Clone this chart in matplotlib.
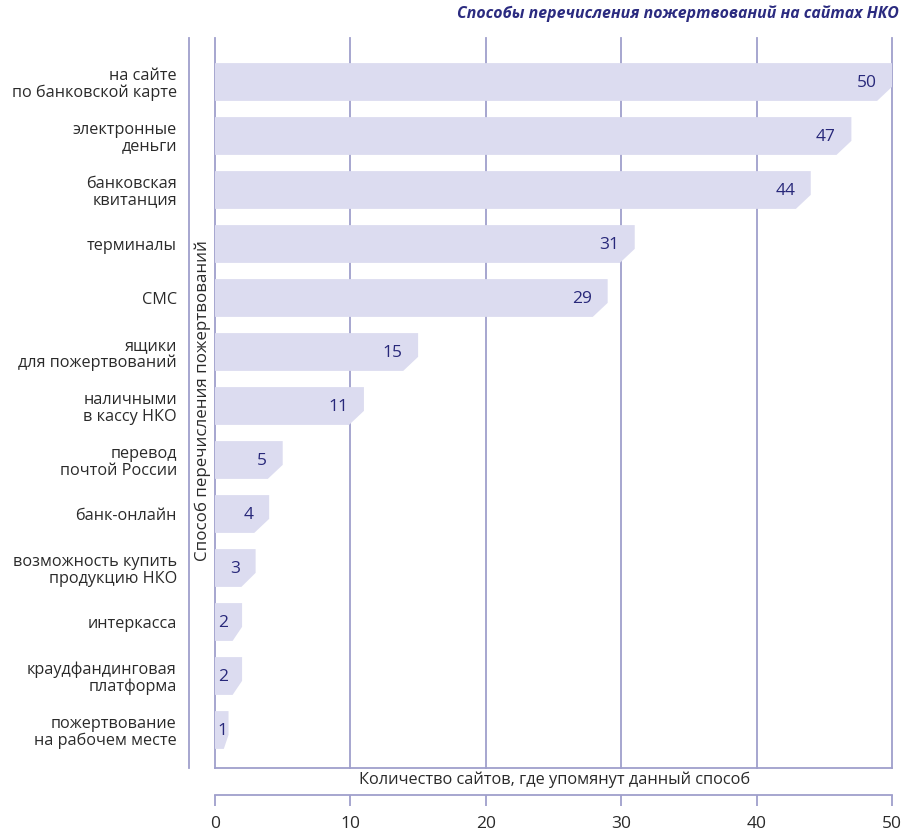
import matplotlib.pyplot as plt
from matplotlib.patches import Polygon
from matplotlib.lines import Line2D

plt.rcParams['font.family'] = ['Open Sans', 'DejaVu Sans']

categories = [
    'на сайте\nпо банковской карте',
    'электронные\nденьги',
    'банковская\nквитанция',
    'терминалы',
    'СМС',
    'ящики\nдля пожертвований',
    'наличными\nв кассу НКО',
    'перевод\nпочтой России',
    'банк-онлайн',
    'возможность купить\nпродукцию НКО',
    'интеркасса',
    'краудфандинговая\nплатформа',
    'пожертвование\nна рабочем месте',
]
values = [50, 47, 44, 31, 29, 15, 11, 5, 4, 3, 2, 2, 1]
x_ticks = [0, 10, 20, 30, 40, 50]

title = 'Способы перечисления пожертвований на сайтах НКО'
y_title = 'Способ перечисления пожертвований'
x_title = 'Количество сайтов, где упомянут данный способ'

line_col = '#9f9fcc'
bar_col = '#dcdcf0'
num_col = '#28287a'
text_col = '#2a2a2a'

W, H = 902, 832
fig = plt.figure(figsize=(W / 100, H / 100), dpi=100)

# main plot area in pixels: x 215..892, y 38..768
ax = fig.add_axes([215 / W, (H - 768) / H, 677 / W, 730 / H])
n = len(values)
ax.set_xlim(0, 50)
ax.set_ylim(n - 1 + 38 / 54, -44 / 54)

h = 0.35
cy = 0.26
for i, v in enumerate(values):
    cx = min(1.1, 0.35 * v)
    pts = [(0, i - h), (v, i - h), (v, i + h - cy), (v - cx, i + h), (0, i + h)]
    ax.add_patch(Polygon(pts, closed=True, facecolor=bar_col, edgecolor='none', zorder=2))
    ax.text(max(v - 1.15, 0.95), i + 0.02, str(v), ha='right', va='center',
            color=num_col, fontsize=12.5, zorder=3)

for t in x_ticks:
    ax.axvline(t, color=line_col, lw=1.3, zorder=1, clip_on=False)

for s in ['top', 'right', 'left']:
    ax.spines[s].set_visible(False)
ax.spines['bottom'].set_color(line_col)
ax.spines['bottom'].set_linewidth(1.3)
ax.set_xticks([])
ax.set_yticks(range(n))
ax.set_yticklabels(categories, fontsize=11.7, color=text_col, linespacing=1.05)
ax.tick_params(axis='y', length=0, pad=27.5)

# left border line of the y title column
fig.add_artist(Line2D([189 / W, 189 / W], [(H - 38) / H, (H - 768) / H],
                      color=line_col, lw=1.3))
fig.text(203 / W, (H - 401) / H, y_title, rotation=90, ha='center', va='center',
         fontsize=12.2, color=text_col)
fig.text(555 / W, (H - 780) / H, x_title, ha='center', va='center',
         fontsize=11.8, color=text_col)

# bottom scale
ax2 = fig.add_axes([215 / W, (H - 795) / H, 677 / W, 0.0001])
ax2.set_xlim(0, 50)
ax2.set_yticks([])
for s in ['top', 'right', 'left']:
    ax2.spines[s].set_visible(False)
ax2.spines['bottom'].set_color(line_col)
ax2.spines['bottom'].set_linewidth(1.3)
ax2.set_xticks(x_ticks)
ax2.tick_params(axis='x', direction='out', length=8, width=1.3, color=line_col,
                labelsize=12.5, labelcolor=text_col, pad=7)
ax2.patch.set_visible(False)

fig.text(899 / W, (H - 14) / H, title, ha='right', va='center', fontsize=11.4,
         fontweight='bold', fontstyle='italic', color='#2b2b80')

fig.savefig('out.png', dpi=100)
